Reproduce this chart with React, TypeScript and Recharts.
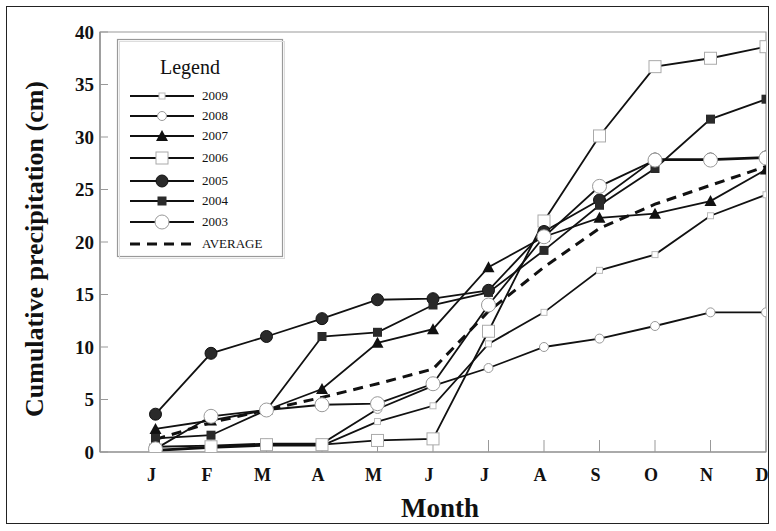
import React from 'react';
import { LineChart, Line, XAxis, YAxis, ReferenceArea, Label } from 'recharts';

const monthLabels = ['J', 'F', 'M', 'A', 'M', 'J', 'J', 'A', 'S', 'O', 'N', 'D'];
const monthNums = [1, 2, 3, 4, 5, 6, 7, 8, 9, 10, 11, 12];
const yTicks = [0, 5, 10, 15, 20, 25, 30, 35, 40];

const y2009 = [0.1, 0.4, 0.6, 0.6, 2.9, 4.4, 10.3, 13.3, 17.3, 18.8, 22.5, 24.5];
const y2008 = [0.5, 0.6, 0.8, 0.8, 4.1, 6.3, 8.0, 10.0, 10.8, 12.0, 13.3, 13.3];
const y2007 = [2.2, 3.0, 4.0, 6.0, 10.4, 11.7, 17.6, 20.5, 22.3, 22.7, 23.9, 26.9];
const y2006 = [0.2, 0.5, 0.7, 0.7, 1.1, 1.25, 11.5, 22.0, 30.1, 36.7, 37.5, 38.6];
const y2005 = [3.6, 9.4, 11.0, 12.7, 14.5, 14.6, 15.4, 21.0, 24.0, 27.9, 27.9, 28.1];
const y2004 = [1.3, 1.6, 4.0, 11.0, 11.4, 14.0, 15.2, 19.2, 23.5, 27.0, 31.7, 33.6];
const y2003 = [0.3, 3.4, 4.0, 4.5, 4.6, 6.5, 14.0, 20.5, 25.3, 27.8, 27.8, 28.0];
const yAvg = [1.2, 2.8, 4.0, 5.2, 6.5, 7.9, 13.4, 17.6, 21.3, 23.6, 25.4, 27.2];

const seriesKeys = ['y2009', 'y2008', 'y2007', 'y2006', 'y2005', 'y2004', 'y2003'];
const seriesNames = ['2009', '2008', '2007', '2006', '2005', '2004', '2003'];
const seriesShapes = ['tiny', 'smallCircle', 'triangle', 'openSquare', 'filledCircle', 'filledSquare', 'bigCircle'];

const data = monthNums.map((m, i) => ({
  m,
  y2009: y2009[i],
  y2008: y2008[i],
  y2007: y2007[i],
  y2006: y2006[i],
  y2005: y2005[i],
  y2004: y2004[i],
  y2003: y2003[i],
  avg: yAvg[i],
}));

const FONT = '"Liberation Serif", "Times New Roman", serif';
const INK = '#111';

function marker(shape: string, cx: number, cy: number, key?: any) {
  switch (shape) {
    case 'tiny':
      return <rect key={key} x={cx - 3} y={cy - 3} width={6} height={6} fill="#fff" stroke="#bbb" strokeWidth={1} />;
    case 'smallCircle':
      return <circle key={key} cx={cx} cy={cy} r={4.5} fill="#fff" stroke="#999" strokeWidth={1} />;
    case 'triangle':
      return <path key={key} d={`M${cx},${cy - 6} L${cx + 6},${cy + 5} L${cx - 6},${cy + 5} Z`} fill="#111" />;
    case 'openSquare':
      return <rect key={key} x={cx - 6} y={cy - 6} width={12} height={12} fill="#fff" stroke="#aaa" strokeWidth={1} />;
    case 'filledCircle':
      return <circle key={key} cx={cx} cy={cy} r={6} fill="#2a2a2a" stroke="#111" strokeWidth={1} />;
    case 'filledSquare':
      return <rect key={key} x={cx - 4.5} y={cy - 4.5} width={9} height={9} fill="#2a2a2a" />;
    case 'bigCircle':
      return <circle key={key} cx={cx} cy={cy} r={7} fill="#fff" stroke="#999" strokeWidth={1} />;
    default:
      return <g key={key} />;
  }
}

const dotFor = (shape: string) => (props: any) => {
  const { cx, cy, index } = props;
  if (cx == null || cy == null) return <g key={`e${index}`} />;
  return marker(shape, cx, cy, `${shape}-${index}`);
};

function LegendBox() {
  const rowY = [96, 116, 136, 158, 181, 201, 222];
  return (
    <svg width={170} height={222} style={{ position: 'absolute', left: 116, top: 38 }}>
      <rect x={1.5} y={1.5} width={165} height={217} fill="#fff" stroke="#999" strokeWidth={1.2} />
      <rect x={3.5} y={3.5} width={165} height={217} fill="none" stroke="#ddd" strokeWidth={1} />
      <text x={74} y={36} textAnchor="middle" fontFamily={FONT} fontSize={20} fill={INK}>
        Legend
      </text>
      {seriesNames.map((name, i) => {
        const y = rowY[i] - 38;
        return (
          <g key={name}>
            <line x1={14} x2={78} y1={y} y2={y} stroke={INK} strokeWidth={1.8} />
            {marker(seriesShapes[i], 46, y)}
            <text x={86} y={y + 4} fontFamily={FONT} fontSize={13} fill={INK}>
              {name}
            </text>
          </g>
        );
      })}
      <line x1={14} x2={78} y1={206} y2={206} stroke={INK} strokeWidth={3} strokeDasharray="10 7" />
      <text x={86} y={210} fontFamily={FONT} fontSize={13} fill={INK}>
        AVERAGE
      </text>
    </svg>
  );
}

export default function App() {
  return (
    <div style={{ position: 'absolute', left: 0, top: 0, width: 776, height: 531, background: '#fff' }}>
      <div
        style={{
          position: 'absolute',
          left: 6,
          top: 6,
          width: 763,
          height: 518,
          border: '1px solid #222',
          boxSizing: 'border-box',
        }}
      />
      <LineChart
        width={776}
        height={531}
        data={data}
        margin={{ top: 32, right: 10, left: 0, bottom: 0 }}
        style={{ position: 'absolute', left: 0, top: 0 }}
      >
        <ReferenceArea x1={0} x2={12} y1={0} y2={40} fill="none" stroke="#999" strokeWidth={1.2} />
        <XAxis
          dataKey="m"
          type="number"
          domain={[0, 12]}
          ticks={monthNums}
          tickFormatter={(v: number) => monthLabels[v - 1]}
          height={79}
          tickSize={-12}
          tickMargin={28}
          axisLine={{ stroke: '#888', strokeWidth: 1.2 }}
          tickLine={{ stroke: '#999' }}
          tick={{ fontFamily: FONT, fontSize: 18, fontWeight: 'bold', fill: INK, dx: -4 }}
          allowDataOverflow
        >
          <Label
            content={() => (
              <text x={440} y={517} textAnchor="middle" fontFamily={FONT} fontSize={27} fontWeight="bold" fill={INK}>
                Month
              </text>
            )}
          />
        </XAxis>
        <YAxis
          type="number"
          domain={[0, 40]}
          ticks={yTicks}
          width={100}
          tickSize={-8}
          tickMargin={14}
          axisLine={{ stroke: '#888', strokeWidth: 1.2 }}
          tickLine={{ stroke: '#999' }}
          tick={{ fontFamily: FONT, fontSize: 19, fontWeight: 'bold', fill: INK }}
          allowDataOverflow
        >
          <Label
            content={() => (
              <text
                x={43}
                y={249}
                transform="rotate(-90 43 249)"
                textAnchor="middle"
                fontFamily={FONT}
                fontSize={26}
                fontWeight="bold"
                fill={INK}
              >
                Cumulative precipitation (cm)
              </text>
            )}
          />
        </YAxis>
        <Line
          dataKey="avg"
          stroke={INK}
          strokeWidth={3}
          strokeDasharray="10 7"
          dot={false}
          isAnimationActive={false}
        />
        {seriesKeys.map((k, i) => (
          <Line
            key={k}
            dataKey={k}
            stroke={INK}
            strokeWidth={1.8}
            dot={dotFor(seriesShapes[i])}
            activeDot={false}
            isAnimationActive={false}
          />
        ))}
      </LineChart>
      <LegendBox />
    </div>
  );
}
